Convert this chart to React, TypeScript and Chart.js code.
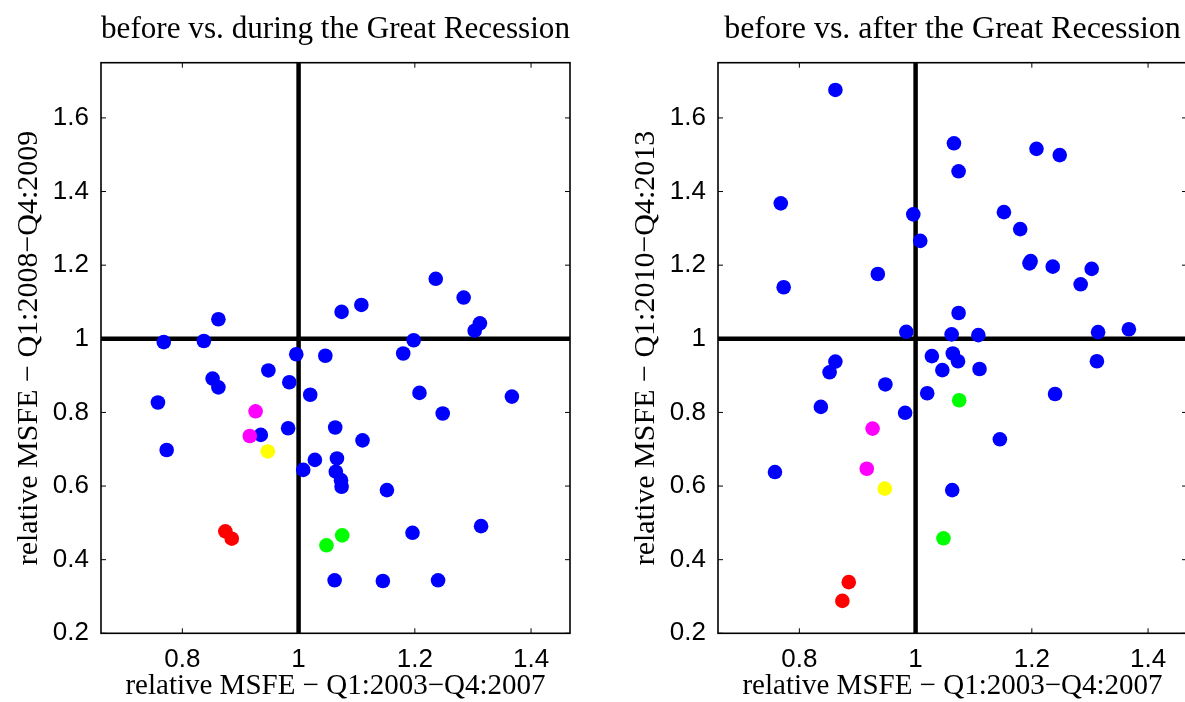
import React, { useEffect, useRef } from "react";
import { Chart, registerables } from "chart.js";

Chart.register(...registerables);

// relative MSFE, Q1:2003–Q4:2007 (x axis, shared by both panels)
const msfeBefore = [
  0.758, 0.768, 0.773, 0.837, 0.852, 0.862, 0.862, 0.935, 0.948, 0.982,
  0.984, 0.996, 1.008, 1.02, 1.028, 1.046, 1.062, 1.063, 1.064, 1.066,
  1.073, 1.074, 1.074, 1.108, 1.11, 1.145, 1.152, 1.18, 1.196, 1.198,
  1.208, 1.236, 1.24, 1.248, 1.284, 1.303, 1.312, 1.314, 1.367,
  0.916, 0.926, 0.947, 0.874, 0.885, 1.048, 1.075,
];
// relative MSFE, Q1:2008–Q4:2009
const msfeDuring = [
  0.827, 0.991, 0.698, 0.994, 0.892, 1.053, 0.868, 0.739, 0.914, 0.757,
  0.882, 0.958, 0.644, 0.848, 0.671, 0.954, 0.344, 0.759, 0.639, 0.675,
  0.616, 0.598, 1.073, 1.092, 0.724, 0.342, 0.589, 0.96, 0.473, 0.996,
  0.853, 1.163, 0.344, 0.797, 1.112, 1.022, 1.042, 0.491, 0.843,
  0.736, 0.803, 0.694, 0.477, 0.457, 0.439, 0.466,
];
// relative MSFE, Q1:2010–Q4:2013
const msfeAfter = [
  0.638, 1.368, 1.14, 0.815, 0.909, 1.676, 0.938, 1.176, 0.876, 0.799,
  1.019, 1.338, 1.266, 0.852, 0.953, 0.915, 1.012, 0.589, 0.96, 1.531,
  0.939, 1.455, 1.07, 1.01, 0.918, 0.727, 1.344, 1.298, 1.205, 1.211,
  1.516, 1.196, 0.85, 1.499, 1.148, 1.19, 0.939, 1.018, 1.026,
  0.647, 0.756, 0.593, 0.288, 0.339, 0.458, 0.833,
];
// colour group of each model
const pointGroup = [
  ...Array(39).fill("blue"),
  "magenta", "magenta", "yellow", "red", "red", "green", "green",
];
const groupOrder = ["blue", "magenta", "yellow", "red", "green"];
const groupColors: Record<string, string> = {
  blue: "#0000ff",
  magenta: "#ff00ff",
  yellow: "#ffff00",
  red: "#ff0000",
  green: "#00ff00",
};

const xTicks = [0.8, 1, 1.2, 1.4];
const xTickLabels = ["0.8", "1", "1.2", "1.4"];
const yTicks = [0.2, 0.4, 0.6, 0.8, 1, 1.2, 1.4, 1.6];
const yTickLabels = ["0.2", "0.4", "0.6", "0.8", "1", "1.2", "1.4", "1.6"];
const xLimits = [0.66, 1.467];
const yLimits = [0.2, 1.75];
const refValue = 1;

const xTitle = "relative MSFE \u2212 Q1:2003\u2212Q4:2007";

const SERIF = "'Liberation Serif', 'Times New Roman', serif";
const SANS = "'Liberation Sans', Arial, sans-serif";

const framePlugin = {
  id: "frame",
  afterDatasetsDraw(chart: any) {
    const { ctx, chartArea: a, scales } = chart;
    const tl = 5;
    ctx.save();
    ctx.strokeStyle = "#000";
    ctx.lineWidth = 1;
    ctx.beginPath();
    for (const t of scales.x.ticks) {
      const px = scales.x.getPixelForValue(t.value);
      ctx.moveTo(px, a.bottom);
      ctx.lineTo(px, a.bottom - tl);
      ctx.moveTo(px, a.top);
      ctx.lineTo(px, a.top + tl);
    }
    for (const t of scales.y.ticks) {
      const py = scales.y.getPixelForValue(t.value);
      ctx.moveTo(a.left, py);
      ctx.lineTo(a.left + tl, py);
      ctx.moveTo(a.right, py);
      ctx.lineTo(a.right - tl, py);
    }
    ctx.stroke();
    ctx.lineWidth = 1.6;
    ctx.strokeRect(a.left, a.top, a.right - a.left, a.bottom - a.top);
    ctx.restore();
  },
};

function Panel(props: { left: number; title: string; yTitle: string; yValues: number[] }) {
  const ref = useRef<HTMLCanvasElement>(null);
  useEffect(() => {
    const scatterSets = groupOrder.map((g) => ({
      type: "scatter" as const,
      data: msfeBefore
        .map((x, i) => ({ x, y: props.yValues[i], g: pointGroup[i] }))
        .filter((p) => p.g === g)
        .map((p) => ({ x: p.x, y: p.y })),
      backgroundColor: groupColors[g],
      borderWidth: 0,
      pointRadius: 7.3,
      pointHoverRadius: 7.3,
      order: g === "blue" ? 5 : 1,
    }));
    const lineStyle = {
      type: "scatter" as const,
      showLine: true,
      borderColor: "#000",
      borderWidth: 4.5,
      pointRadius: 0,
      order: 10,
    };
    const chart = new Chart(ref.current as HTMLCanvasElement, {
      type: "scatter",
      data: {
        datasets: [
          { ...lineStyle, data: [{ x: xLimits[0], y: refValue }, { x: xLimits[1], y: refValue }] },
          { ...lineStyle, data: [{ x: refValue, y: yLimits[0] }, { x: refValue, y: yLimits[1] }] },
          ...scatterSets,
        ] as any,
      },
      options: {
        animation: false,
        responsive: false,
        layout: { padding: { left: 0, right: 30, top: 0, bottom: 0 } },
        plugins: {
          legend: { display: false },
          tooltip: { enabled: false },
          title: {
            display: true,
            text: props.title,
            fullSize: false,
            color: "#000",
            font: { family: SERIF, size: 32, weight: "normal", lineHeight: 1.2 },
            padding: { top: 10, bottom: 14.3 },
          },
        },
        scales: {
          x: {
            type: "linear",
            min: xLimits[0],
            max: xLimits[1],
            afterBuildTicks: (s: any) => {
              s.ticks = xTicks.map((v) => ({ value: v }));
            },
            afterFit: (s: any) => {
              s.height = 68.7;
            },
            grid: { display: false, drawTicks: false },
            border: { display: false },
            ticks: {
              color: "#000",
              font: { family: SANS, size: 26, lineHeight: 1.2 },
              padding: 11,
              autoSkip: false,
              maxRotation: 0,
              callback: (_v: any, i: number) => xTickLabels[i],
            },
            title: {
              display: true,
              text: xTitle,
              color: "#000",
              font: { family: SERIF, size: 29, lineHeight: 1 },
              padding: { top: 0, bottom: 1 },
            },
          },
          y: {
            type: "linear",
            min: yLimits[0],
            max: yLimits[1],
            afterBuildTicks: (s: any) => {
              s.ticks = yTicks.map((v) => ({ value: v }));
            },
            afterFit: (s: any) => {
              s.width = 101;
            },
            grid: { display: false, drawTicks: false },
            border: { display: false },
            ticks: {
              color: "#000",
              font: { family: SANS, size: 26, lineHeight: 1.2 },
              padding: 12,
              autoSkip: false,
              callback: (_v: any, i: number) => yTickLabels[i],
            },
            title: {
              display: true,
              text: props.yTitle,
              color: "#000",
              font: { family: SERIF, size: 30, lineHeight: 1 },
              padding: { top: 14.5, bottom: 0 },
            },
          },
        },
      } as any,
      plugins: [framePlugin],
    });
    return () => chart.destroy();
  }, []);
  return (
    <div style={{ position: "absolute", left: props.left, top: 0, width: 600, height: 702 }}>
      <canvas ref={ref} width={600} height={702} style={{ display: "block" }} />
    </div>
  );
}

export default function App() {
  return (
    <div
      style={{
        position: "fixed",
        left: 0,
        top: 0,
        width: 1185,
        height: 702,
        overflow: "hidden",
        background: "#fff",
      }}
    >
      <Panel
        left={0}
        title="before vs. during the Great Recession"
        yTitle={"relative MSFE \u2212 Q1:2008\u2212Q4:2009"}
        yValues={msfeDuring}
      />
      <Panel
        left={617}
        title="before vs. after the Great Recession"
        yTitle={"relative MSFE \u2212 Q1:2010\u2212Q4:2013"}
        yValues={msfeAfter}
      />
    </div>
  );
}
